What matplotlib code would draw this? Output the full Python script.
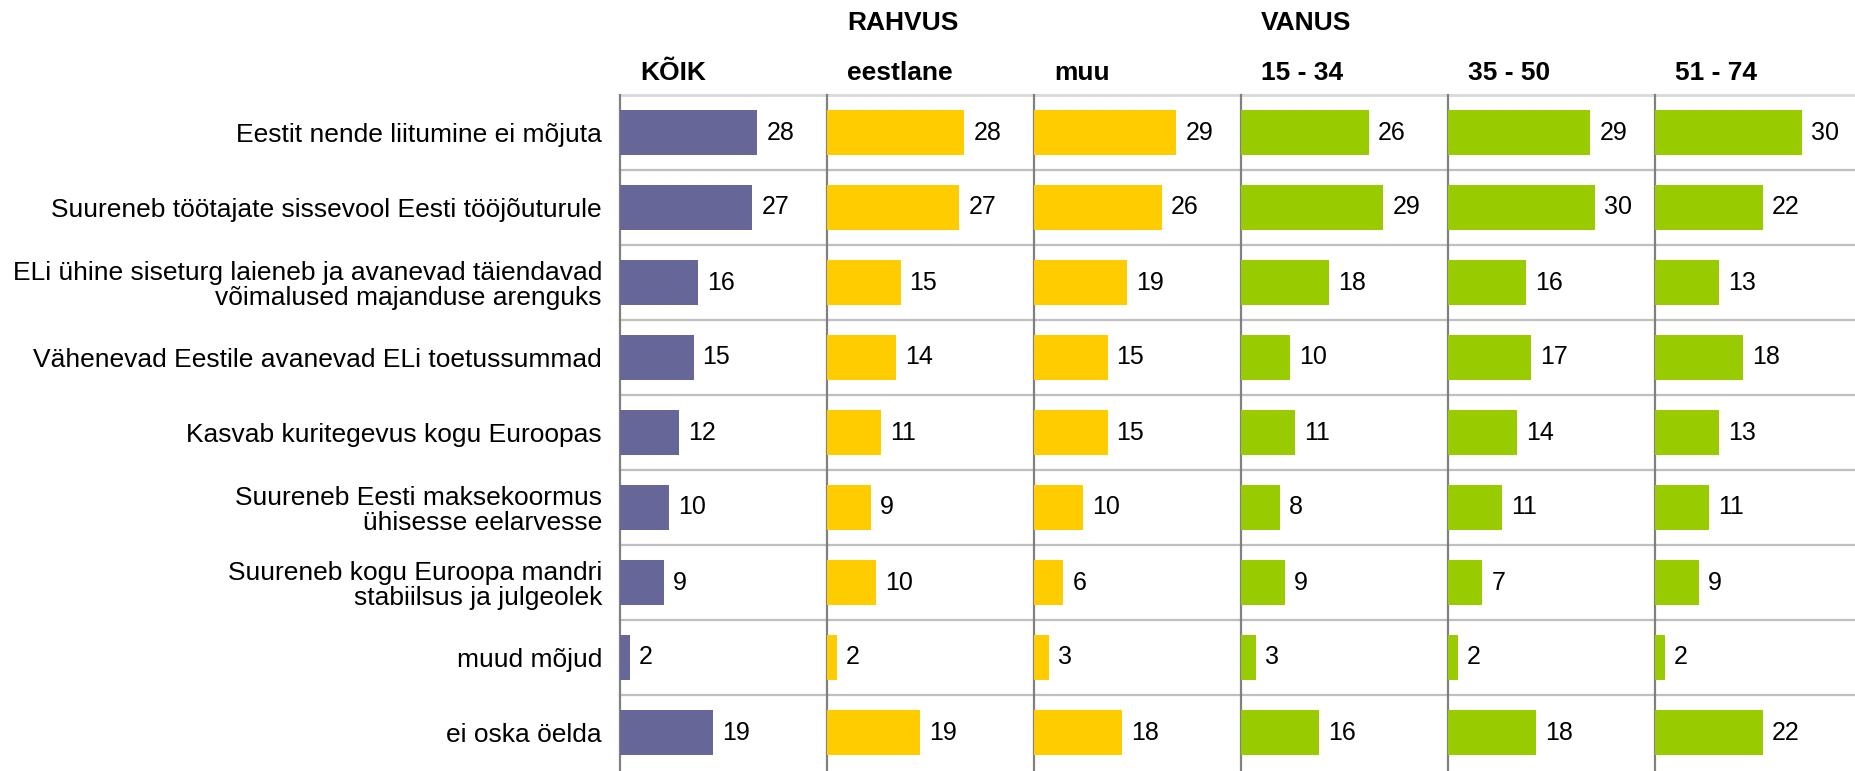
import matplotlib
matplotlib.use("Agg")
import matplotlib.pyplot as plt

plt.rcParams['font.family'] = ['Liberation Sans', 'DejaVu Sans']

categories = [
    "Eestit nende liitumine ei mõjuta",
    "Suureneb töötajate sissevool Eesti tööjõuturule",
    "ELi ühine siseturg laieneb ja avanevad täiendavad\nvõimalused majanduse arenguks",
    "Vähenevad Eestile avanevad ELi toetussummad",
    "Kasvab kuritegevus kogu Euroopas",
    "Suureneb Eesti maksekoormus\nühisesse eelarvesse",
    "Suureneb kogu Euroopa mandri\nstabiilsus ja julgeolek",
    "muud mõjud",
    "ei oska öelda",
]

group_titles = ["", "RAHVUS", "", "VANUS", "", ""]
panel_titles = ["KÕIK", "eestlane", "muu", "15 - 34", "35 - 50", "51 - 74"]

koik = [28, 27, 16, 15, 12, 10, 9, 2, 19]
eestlane = [28, 27, 15, 14, 11, 9, 10, 2, 19]
muu = [29, 26, 19, 15, 15, 10, 6, 3, 18]
vanus_15_34 = [26, 29, 18, 10, 11, 8, 9, 3, 16]
vanus_35_50 = [29, 30, 16, 17, 14, 11, 7, 2, 18]
vanus_51_74 = [30, 22, 13, 18, 13, 11, 9, 2, 22]

series = [koik, eestlane, muu, vanus_15_34, vanus_35_50, vanus_51_74]
colors = ["#666699", "#FFCC00", "#FFCC00", "#99CC00", "#99CC00", "#99CC00"]

W, H = 1855, 771
fig = plt.figure(figsize=(W / 100, H / 100), dpi=100)

left0 = 620
pw = 207
top_px = 95
row_px = 75
n = len(categories)
bottom_px = top_px + n * row_px

fs_val = 18
fs_lab = 19
fs_head = 19
for i, (vals, col) in enumerate(zip(series, colors)):
    x0 = left0 + i * pw
    ax = fig.add_axes([x0 / W, 1 - bottom_px / H, pw / W, (bottom_px - top_px) / H])
    ys = list(range(n))
    ax.barh(ys, vals, height=0.61, color=col, zorder=3)
    ax.set_xlim(0, 42.2)
    ax.set_ylim(n - 0.5, -0.5)
    for y, v in zip(ys, vals):
        ax.annotate(str(v), (v, y), xytext=(9, 0), textcoords='offset pixels',
                    ha='left', va='center', fontsize=fs_val, color='black')
    for b in range(n):
        ax.axhline(b - 0.5, color='#d9d9d9' if b == 0 else '#bfbfbf',
                   lw=2.0 if b == 0 else 1.6, zorder=1, clip_on=False)
    for s in ['top', 'right', 'bottom']:
        ax.spines[s].set_visible(False)
    ax.spines['left'].set_color('#808080')
    ax.spines['left'].set_linewidth(1.6)
    ax.set_xticks([])
    if i == 0:
        ax.set_yticks(ys)
        ax.set_yticklabels(categories, fontsize=fs_lab, linespacing=1.05,
                           multialignment='right')
        ax.tick_params(axis='y', length=0, pad=13)
    else:
        ax.set_yticks([])
    ax.patch.set_alpha(0)
    fig.text((x0 + 20) / W, 1 - 73 / H, panel_titles[i], fontsize=fs_head,
             fontweight='bold', ha='left', va='center')
    if group_titles[i]:
        fig.text((x0 + 20) / W, 1 - 23 / H, group_titles[i], fontsize=fs_head,
                 fontweight='bold', ha='left', va='center')

fig.savefig("out.png", dpi=100)
